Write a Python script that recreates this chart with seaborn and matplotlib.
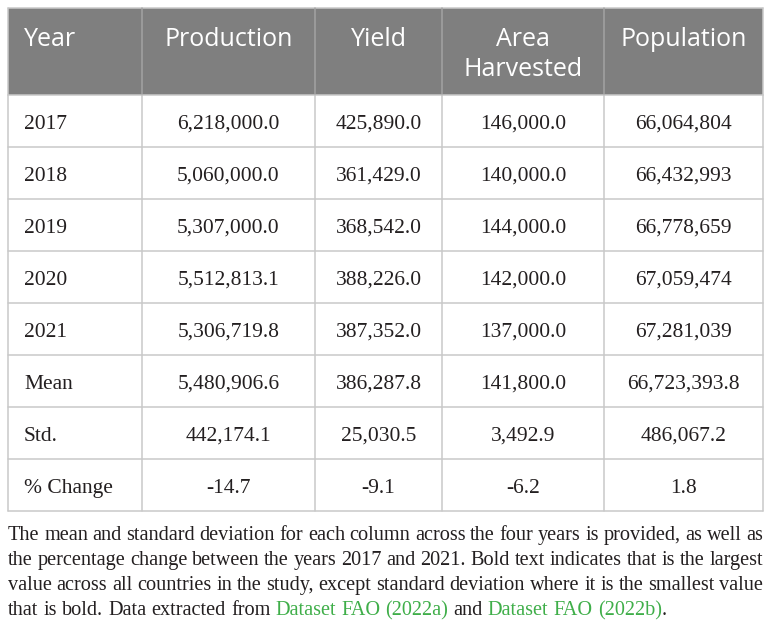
import matplotlib
matplotlib.use("Agg")
import matplotlib.pyplot as plt
import seaborn as sns
import pandas as pd

# Datos de la tabla
row_labels = ["2017", "2018", "2019", "2020", "2021", "Mean", "Std.", "% Change"]
production = [6218000.0, 5060000.0, 5307000.0, 5512813.1, 5306719.8, 5480906.6, 442174.1, -14.7]
yield_vals = [425890.0, 361429.0, 368542.0, 388226.0, 387352.0, 386287.8, 25030.5, -9.1]
area_harvested = [146000.0, 140000.0, 144000.0, 142000.0, 137000.0, 141800.0, 3492.9, -6.2]
population = [66064804, 66432993, 66778659, 67059474, 67281039, 66723393.8, 486067.2, 1.8]
headers = ["Year", "Production", "Yield", "Area\nHarvested", "Population"]

caption_lines = [
    "The mean and standard deviation for each column across the four years is provided, as well as",
    "the percentage change between the years 2017 and 2021. Bold text indicates that is the largest",
    "value across all countries in the study, except standard deviation where it is the smallest value",
]
caption_last = [("that is bold. Data extracted from", "k"), ("Dataset FAO (2022a)", "g"),
                ("and", "k"), ("Dataset FAO (2022b)", "g"), (".", "k")]

df = pd.DataFrame({
    "Year": row_labels,
    "Production": production,
    "Yield": yield_vals,
    "Area\nHarvested": area_harvested,
    "Population": population,
})


def fmt(v, col, label):
    if label == "% Change":
        return f"{v:.1f}"
    if col == "Population" and label.isdigit():
        return f"{int(v):,}"
    return f"{v:,.1f}"


sns.set_style("white")
TXT = "#231f20"
GRID = "#c9c9c9"
HEAD_BG = "#7f7f7f"
GREEN = "#3fae49"

fig = plt.figure(figsize=(7.72, 6.30), dpi=100)
ax = fig.add_axes([0, 0, 1, 1])
ax.set_xlim(0, 772)
ax.set_ylim(630, 0)
ax.axis("off")

col_edges = [8, 142, 315, 442, 604, 763]
top, head_bot, row_h = 8, 95, 52
n_rows = len(df)
bottom = head_bot + row_h * n_rows

# Encabezado
ax.fill_between([col_edges[0], col_edges[-1]], top, head_bot, color=HEAD_BG, lw=0)
for i, h in enumerate(headers):
    for k, line in enumerate(h.split("\n")):
        if i == 0:
            x, ha = col_edges[0] + 16, "left"
        else:
            x, ha = (col_edges[i] + col_edges[i + 1]) / 2, "center"
        ax.text(x, 46 + 30 * k, line, ha=ha, va="baseline", color="white",
                fontsize=18, family="Open Sans")

# Cuerpo
for r in range(n_rows):
    y0 = head_bot + r * row_h
    label = df["Year"].iloc[r]
    ax.text(col_edges[0] + 16, y0 + 34, label, ha="left", va="baseline",
            color=TXT, fontsize=15.5, family="Liberation Serif")
    for c, col in enumerate(headers[1:], start=1):
        s = fmt(df[col].iloc[r], col, label)
        ax.text((col_edges[c] + col_edges[c + 1]) / 2, y0 + 34, s, ha="center",
                va="baseline", color=TXT, fontsize=15.5, family="Liberation Serif")

# Lineas de la grilla
for r in range(n_rows + 1):
    y = head_bot + r * row_h
    ax.plot([col_edges[0], col_edges[-1]], [y, y], color=GRID, lw=1.1)
ax.plot([col_edges[0], col_edges[-1]], [top, top], color=GRID, lw=1.1)
for i, x in enumerate(col_edges):
    ax.plot([x, x], [top, head_bot], color="#a3a3a3" if 0 < i < 5 else GRID, lw=1.1)
    ax.plot([x, x], [head_bot, bottom], color=GRID, lw=1.1)

# Pie de tabla justificado
renderer = fig.canvas.get_renderer()
cap_kw = dict(va="baseline", fontsize=14.6, family="Liberation Serif")
x_left, x_right = col_edges[0], col_edges[-1]


def width_of(t):
    return t.get_window_extent(renderer).width


probe1 = ax.text(0, -50, "xx", **cap_kw)
probe2 = ax.text(0, -50, "x x", **cap_kw)
space_w = width_of(probe2) - width_of(probe1)
probe1.remove()
probe2.remove()

for li, line in enumerate(caption_lines):
    yb = 540 + 25 * li
    words = line.split(" ")
    texts = [ax.text(0, yb, w, ha="left", color=TXT, **cap_kw) for w in words]
    widths = [width_of(t) for t in texts]
    gap = max((x_right - x_left - sum(widths)) / (len(words) - 1), 2.0)
    x = x_left
    for t, w in zip(texts, widths):
        t.set_x(x)
        x += w + gap

x = x_left
yb = 540 + 25 * 3
for seg, c in caption_last:
    words = seg.split(" ")
    if seg == ".":
        x -= space_w
    for w in words:
        t = ax.text(x, yb, w, ha="left", color=GREEN if c == "g" else TXT, **cap_kw)
        x += width_of(t) + space_w

fig.savefig("out.png", dpi=100)
